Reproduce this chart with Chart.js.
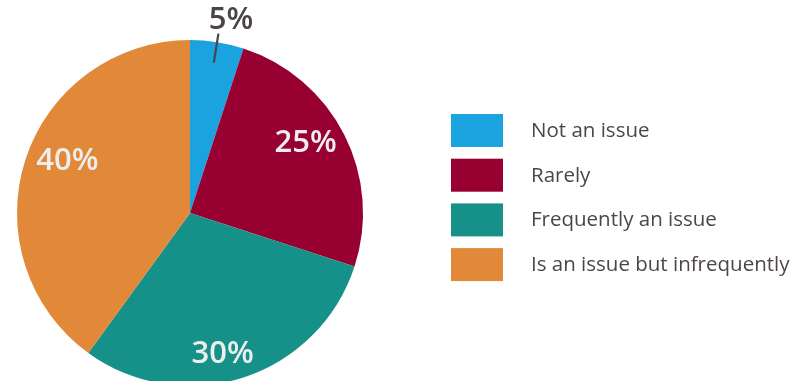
<!DOCTYPE html>
<html>
<head>
<meta charset="utf-8">
<script src="https://cdn.jsdelivr.net/npm/chart.js@4.4.0/dist/chart.umd.min.js"></script>
<style>
  html, body { margin: 0; padding: 0; background: #fff; overflow: hidden; }
  #wrap { position: relative; width: 808px; height: 400px; }
</style>
</head>
<body>
<div id="wrap"><canvas id="pieChart"></canvas></div>
<script>
var categories = ['Not an issue', 'Rarely', 'Frequently an issue', 'Is an issue but infrequently'];
var shares = [5, 25, 30, 40];
var sliceColors = ['#1aa3de', '#970030', '#16918a', '#e18839'];

// where each percentage sits: fraction of radius and a small angle nudge (degrees)
var labelSpots = [
  { r: 1.14, da: 3, color: '#4a4443', leader: true },
  { r: 0.78, da: -4, color: '#eeeeee' },
  { r: 0.84, da: 5, color: '#eeeeee' },
  { r: 0.77, da: 5, color: '#eeeeee' }
];

var sliceLabels = {
  id: 'sliceLabels',
  afterDatasetsDraw: function(chart) {
    var ctx = chart.ctx;
    var meta = chart.getDatasetMeta(0);
    ctx.save();
    ctx.font = '600 31px "Open Sans"';
    ctx.textAlign = 'center';
    ctx.textBaseline = 'middle';
    meta.data.forEach(function(arc, i) {
      var p = arc.getProps(['x', 'y', 'startAngle', 'endAngle', 'outerRadius']);
      var spot = labelSpots[i];
      var mid = (p.startAngle + p.endAngle) / 2;
      if (spot.leader) {
        ctx.strokeStyle = spot.color;
        ctx.lineWidth = 2.2;
        ctx.beginPath();
        ctx.moveTo(p.x + Math.cos(mid) * p.outerRadius * 0.88, p.y + Math.sin(mid) * p.outerRadius * 0.88);
        ctx.lineTo(p.x + Math.cos(mid) * p.outerRadius * 1.05, p.y + Math.sin(mid) * p.outerRadius * 1.05);
        ctx.stroke();
      }
      var a = mid + spot.da * Math.PI / 180;
      var rr = p.outerRadius * spot.r;
      ctx.fillStyle = spot.color;
      ctx.fillText(shares[i] + '%', p.x + Math.cos(a) * rr, p.y + Math.sin(a) * rr);
    });
    ctx.restore();
  }
};

// legend on the right: colour swatch + category name
var sideLegend = {
  id: 'sideLegend',
  afterDraw: function(chart) {
    var ctx = chart.ctx;
    ctx.save();
    ctx.font = '20.5px "Open Sans"';
    ctx.textAlign = 'left';
    ctx.textBaseline = 'middle';
    categories.forEach(function(name, i) {
      var top = 114 + i * 44.7;
      ctx.fillStyle = sliceColors[i];
      ctx.fillRect(451, top, 52, 33);
      ctx.fillStyle = '#4d4645';
      ctx.fillText(name, 531, top + 17);
    });
    ctx.restore();
  }
};

var ctxPie = document.getElementById('pieChart').getContext('2d');
var pieChart = new Chart(ctxPie, {
  type: 'pie',
  data: {
    labels: categories,
    datasets: [{
      data: shares,
      backgroundColor: sliceColors,
      borderWidth: 0
    }]
  },
  options: {
    responsive: true,
    maintainAspectRatio: false,
    animation: false,
    layout: {
      padding: { left: 17, top: 40, right: 445, bottom: 14 }
    },
    plugins: {
      legend: { display: false },
      tooltip: { enabled: false }
    }
  },
  plugins: [sliceLabels, sideLegend]
});
</script>
</body>
</html>
